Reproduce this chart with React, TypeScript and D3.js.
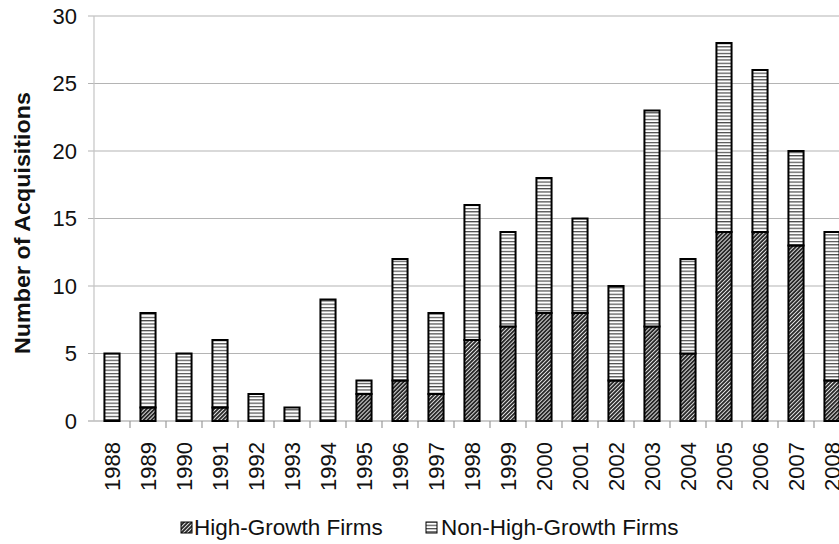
import React from "react";
import * as d3 from "d3";

const years = ["1988","1989","1990","1991","1992","1993","1994","1995","1996","1997","1998","1999","2000","2001","2002","2003","2004","2005","2006","2007","2008"];
const highGrowth = [0,1,0,1,0,0,0,2,3,2,6,7,8,8,3,7,5,14,14,13,3];
const totals = [5,8,5,6,2,1,9,3,12,8,16,14,18,15,10,23,12,28,26,20,14];
const nonHighGrowth = totals.map((t, i) => t - highGrowth[i]);
const yTicks = [0,5,10,15,20,25,30];
const seriesKeys = ["hg","nhg"];
const seriesLabels = ["High-Growth Firms","Non-High-Growth Firms"];

const W = 839, H = 544;
const x0 = 94, step = 36;
const FONT = "'Liberation Sans', Arial, sans-serif";

export default function App() {
  const rows = years.map((y, i) => ({ year: y, hg: highGrowth[i], nhg: nonHighGrowth[i] }));
  const x = d3.scaleBand<string>().domain(years).range([x0, x0 + step * years.length]).paddingInner(0.58).paddingOuter(0.29);
  const y = d3.scaleLinear().domain([0, 30]).range([421, 16]);
  const stacked = d3.stack<any>().keys(seriesKeys)(rows);
  const fills = ["url(#hatchDiag)", "url(#hatchHoriz)"];

  return (
    <svg width={W} height={H} style={{ position: "absolute", left: 0, top: 0, background: "#fff" }} fontFamily={FONT}>
      <defs>
        <pattern id="hatchDiag" patternUnits="userSpaceOnUse" width={2.8} height={2.8} patternTransform="rotate(45)">
          <rect width={2.8} height={2.8} fill="#fff" />
          <rect width={2.0} height={2.8} fill="#2a2a2a" />
        </pattern>
        <pattern id="hatchHoriz" patternUnits="userSpaceOnUse" width={4} height={3.3}>
          <rect width={4} height={3.3} fill="#fff" />
          <rect y={0} width={4} height={1.2} fill="#4a4a4a" />
        </pattern>
      </defs>

      {yTicks.map((t) => (
        <line key={"g" + t} x1={88} x2={W} y1={y(t)} y2={y(t)} stroke={t === 0 ? "#9a9a9a" : "#b4b4b4"} strokeWidth={1.2} />
      ))}
      <line x1={x0} x2={x0} y1={y(30)} y2={y(0)} stroke="#c4c4c4" strokeWidth={1.2} />
      {years.map((yr, i) => (
        <line key={"xt" + yr} x1={x0 + step * (i + 1)} x2={x0 + step * (i + 1)} y1={y(0)} y2={y(0) + 7} stroke="#9a9a9a" strokeWidth={1.2} />
      ))}

      {stacked.map((s, si) => (
        <g key={s.key}>
          {s.map((d, i) => {
            const h = y(d[0]) - y(d[1]);
            if (h <= 0) return null;
            return (
              <rect key={i} x={x(years[i])!} width={x.bandwidth()} y={y(d[1])} height={h}
                fill={fills[si]} stroke="#000" strokeWidth={2} />
            );
          })}
        </g>
      ))}

      {yTicks.map((t) => (
        <text key={"yl" + t} x={77} y={y(t)} dy="0.35em" textAnchor="end" fontSize={22} fill="#111">{t}</text>
      ))}
      {years.map((yr) => {
        const cx = x(yr)! + x.bandwidth() / 2;
        return (
          <text key={"xl" + yr} transform={`translate(${cx},442) rotate(-90)`} dy="0.35em" textAnchor="end" fontSize={22} fill="#111">{yr}</text>
        );
      })}

      <text transform="translate(22,223) rotate(-90)" dy="0.35em" textAnchor="middle" fontSize={22} fontWeight="bold" fill="#111" textLength={262} lengthAdjust="spacingAndGlyphs">Number of Acquisitions</text>

      <g>
        <rect x={181} y={522} width={11} height={11} fill={fills[0]} stroke="#000" strokeWidth={1} />
        <text x={194} y={535} fontSize={22.5} fill="#111">{seriesLabels[0]}</text>
        <rect x={426} y={522} width={11} height={11} fill={fills[1]} stroke="#000" strokeWidth={1} />
        <text x={441} y={535} fontSize={22.5} fill="#111">{seriesLabels[1]}</text>
      </g>
    </svg>
  );
}
